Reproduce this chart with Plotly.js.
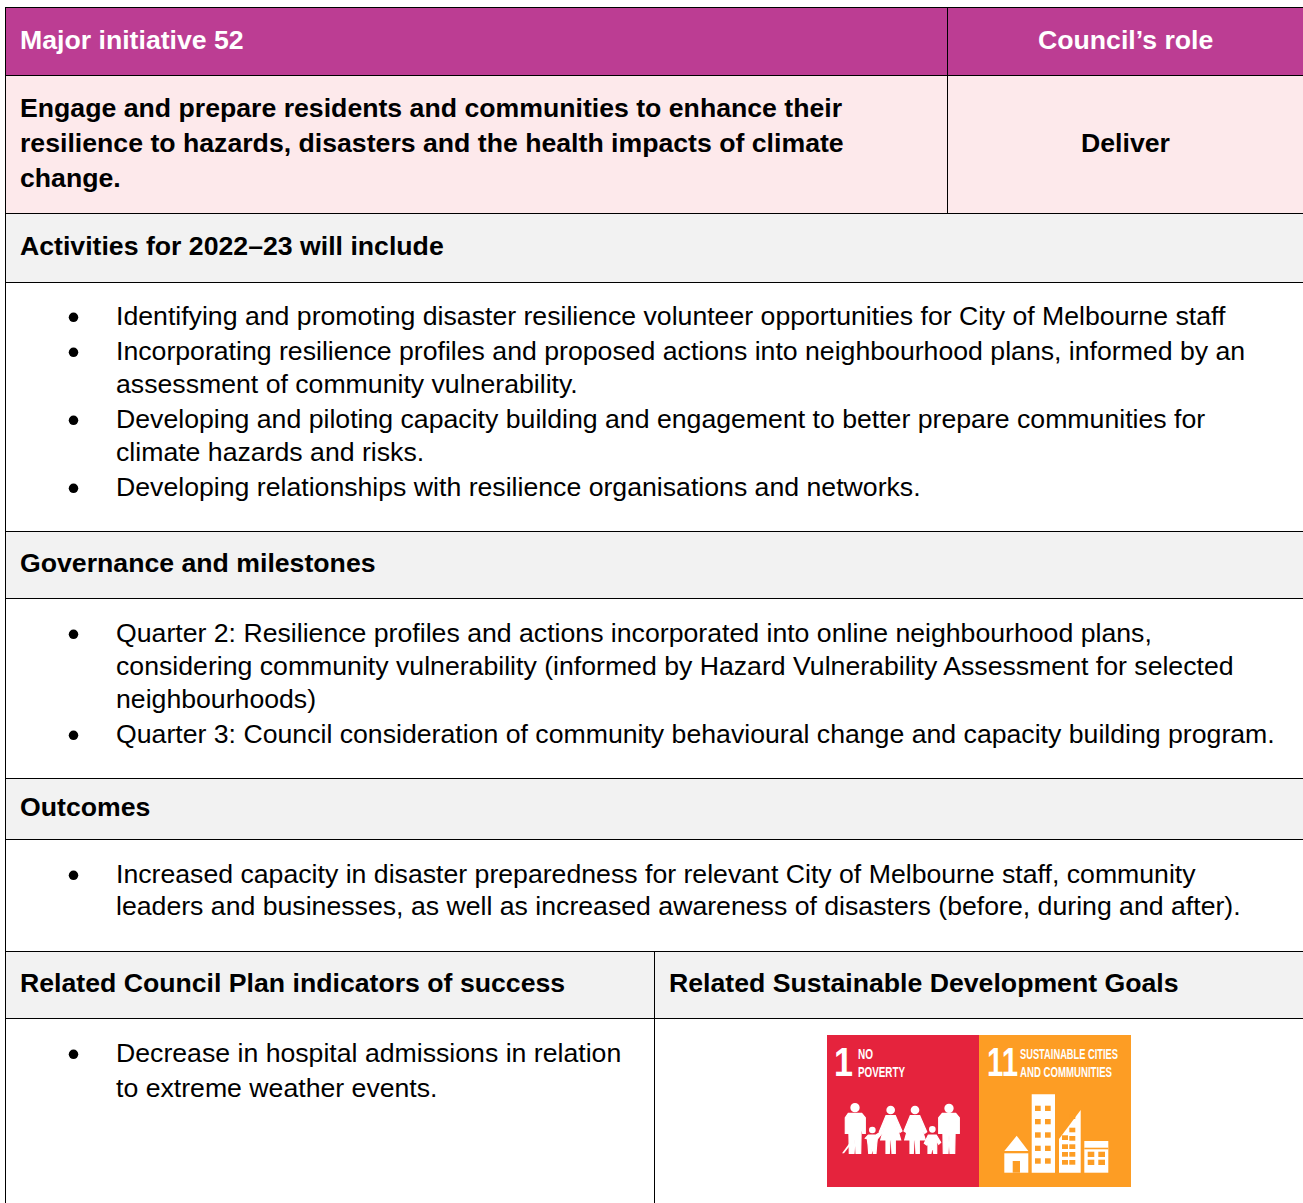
<!DOCTYPE html>
<html><head><meta charset="utf-8">
<script src="https://cdn.plot.ly/plotly-3.0.1.min.js"></script>
<style>html,body{margin:0;padding:0;background:#fff}#c{width:1303px;height:1203px}</style>
</head><body><div id="c"></div>
<script>
var headerLabels = ["Major initiative 52", "Council’s role"];
var initiativeLines = ["Engage and prepare residents and communities to enhance their",
  "resilience to hazards, disasters and the health impacts of climate", "change."];
var councilRole = "Deliver";
var sectionHeadings = ["Activities for 2022–23 will include", "Governance and milestones", "Outcomes",
  "Related Council Plan indicators of success"];
var sdgHeading = "Related Sustainable Development Goals";
var activityLines = ["Identifying and promoting disaster resilience volunteer opportunities for City of Melbourne staff",
  "Incorporating resilience profiles and proposed actions into neighbourhood plans, informed by an",
  "assessment of community vulnerability.",
  "Developing and piloting capacity building and engagement to better prepare communities for",
  "climate hazards and risks.",
  "Developing relationships with resilience organisations and networks."];
var milestoneLines = ["Quarter 2: Resilience profiles and actions incorporated into online neighbourhood plans,",
  "considering community vulnerability (informed by Hazard Vulnerability Assessment for selected",
  "neighbourhoods)",
  "Quarter 3: Council consideration of community behavioural change and capacity building program."];
var outcomeLines = ["Increased capacity in disaster preparedness for relevant City of Melbourne staff, community",
  "leaders and businesses, as well as increased awareness of disasters (before, during and after)."];
var indicatorLines = ["Decrease in hospital admissions in relation", "to extreme weather events."];
var sdgTexts = ["1", "NO", "POVERTY", "11", "SUSTAINABLE CITIES", "AND COMMUNITIES"];

var MAG="#BC3D93", PINK="#FDE9EB", GRAY="#F2F2F2", RED="#E5233D", ORG="#FD9D24", INK="#000";
var SIZE=26.67, F="Liberation Sans, Arial, sans-serif";
var shapes=[], ann=[], squeeze={};
function rect(x0,y0,x1,y1,c){shapes.push({type:"rect",xref:"x",yref:"y",x0:x0,y0:y0,x1:x1,y1:y1,fillcolor:c,line:{width:0},layer:"below"});}
function line(x0,y0,x1,y1){shapes.push({type:"line",xref:"x",yref:"y",x0:x0,y0:y0,x1:x1,y1:y1,line:{color:"#000",width:1},layer:"below"});}
function txt(s,x,y,o){o=o||{};ann.push({text:s,x:x,y:y,xref:"x",yref:"y",showarrow:false,xanchor:o.a||"left",align:o.a||"left",yanchor:"middle",borderpad:0,
  font:{family:F,size:o.s||SIZE,color:o.c||INK,weight:o.b?700:400}});
  if(o.w)squeeze[s]=o.w;}

rect(5,7,1303,75,MAG); rect(5,75,1303,213,PINK); rect(5,213,1303,282,GRAY);
rect(5,531,1303,598,GRAY); rect(5,778,1303,839,GRAY); rect(5,951,1303,1018,GRAY);
[7.5,75.5,213.5,282.5,531.5,598.5,778.5,839.5,951.5,1018.5].forEach(function(y){line(5,y,1303,y);});
line(5.5,7,5.5,1203); line(947.5,7,947.5,213); line(654.5,951,654.5,1203);

var BX=19, TX=115;
txt(headerLabels[0],BX,40,{b:1,c:"#fff"}); txt(headerLabels[1],1125,40,{b:1,c:"#fff",a:"center"});
[108,143,178].forEach(function(y,i){txt(initiativeLines[i],BX,y,{b:1});});
txt(councilRole,1125,143,{b:1,a:"center"});
[246,563,807,983].forEach(function(y,i){txt(sectionHeadings[i],BX,y,{b:1});});
txt(sdgHeading,668,983,{b:1});
[316,351,384,419,452,487].forEach(function(y,i){txt(activityLines[i],TX,y);});
[633,666,699,734].forEach(function(y,i){txt(milestoneLines[i],TX,y);});
[874,906].forEach(function(y,i){txt(outcomeLines[i],TX,y);});
[1053,1088].forEach(function(y,i){txt(indicatorLines[i],TX,y);});

// SDG tiles, icon outlines given in the tile's own 3x crop coordinates
rect(827,1035,979,1187,RED); rect(979,1035,1131,1187,ORG);
function P(pts,c,lw){var d=pts.map(function(p,i){return (i?"L":"M")+(820+p[0]/3).toFixed(1)+","+(1025+p[1]/3).toFixed(1);}).join("")+"Z";
  shapes.push({type:"path",xref:"x",yref:"y",path:d,fillcolor:c||"#fff",line:lw?{color:c||"#fff",width:lw}:{width:0},layer:"below"});}
function H(pts){P(pts,"#fff",1.2);}
function R(a,b,c,d,col){P([[a,b],[c,b],[c,d],[a,d]],col);}
function C(cx,cy,r){shapes.push({type:"circle",xref:"x",yref:"y",x0:820+(cx-r)/3,x1:820+(cx+r)/3,y0:1025+(cy-r)/3,y1:1025+(cy+r)/3,fillcolor:"#fff",line:{width:0},layer:"below"});}
C(105,248,14);
H([[85,265],[125,265],[136,278],[136,325],[128,325],[124,290],[122,385],[108,385],[106,330],[102,385],[88,385],[86,290],[84,325],[76,325],[76,278]]);
P([[72,385],[66,385],[128,300],[134,305]]);
C(157,315,10);
H([[145,330],[168,330],[180,322],[184,328],[172,342],[170,358],[168,385],[160,385],[157,365],[154,385],[146,385],[144,358],[142,342],[136,340]]);
C(212,255,13);
H([[198,272],[226,272],[246,318],[240,322],[228,295],[242,345],[226,345],[226,385],[216,385],[214,345],[210,345],[208,385],[198,385],[198,345],[182,345],[196,295],[184,325],[178,320]]);
C(285,255,13);
H([[271,272],[299,272],[320,320],[314,325],[300,295],[316,345],[298,345],[298,385],[288,385],[286,345],[282,345],[280,385],[270,385],[270,345],[254,345],[268,295],[258,322],[252,318]]);
C(337,313,10);
H([[325,330],[349,330],[362,352],[356,358],[350,345],[350,385],[341,385],[337,362],[333,385],[324,385],[324,345],[320,360],[313,355]]);
C(387,250,14);
H([[367,265],[407,265],[418,278],[418,325],[408,325],[406,290],[404,385],[390,385],[387,330],[384,385],[370,385],[368,290],[366,325],[356,325],[356,278]]);
// buildings
R(635,208,705,443);
[250,290,330,370,408].forEach(function(y){R(645,y-8,662,y+8,ORG);R(675,y-8,692,y+8,ORG);});
P([[717,443],[717,342],[782,255],[782,443]]);
[[757,275],[735,338],[757,315],[735,365],[757,340],[735,388],[757,365],[735,412],[757,388],[757,412]].forEach(function(w){R(w[0]-9,w[1]-7,w[0]+9,w[1]+7,ORG);});
P([[553,378],[590,332],[625,378]]); R(553,385,625,443); R(578,408,600,443,ORG);
R(793,348,865,443); R(793,368,865,373,ORG);
[[803,388],[835,388],[803,412],[835,412]].forEach(function(w){R(w[0],w[1]-8,w[0]+20,w[1]+8,ORG);});
txt(sdgTexts[0],833,1062,{s:40,b:1,c:"#fff",w:19});
txt(sdgTexts[1],857,1054,{s:14,b:1,c:"#fff",w:15});
txt(sdgTexts[2],857,1072,{s:14,b:1,c:"#fff",w:47});
txt(sdgTexts[3],985.5,1062,{s:40,b:1,c:"#fff",w:31});
txt(sdgTexts[4],1019,1054,{s:14,b:1,c:"#fff",w:98});
txt(sdgTexts[5],1019,1072,{s:14,b:1,c:"#fff",w:92});

var bulletY=[317.3,352.3,420.3,488.3,634.3,735.3,875.3,1054.3];
var trace={type:"scatter",mode:"markers",x:bulletY.map(function(){return 73.5;}),y:bulletY,marker:{color:"#000",size:9.5},hoverinfo:"skip",cliponaxis:false};
Plotly.newPlot("c",[trace],{width:1303,height:1203,margin:{l:0,r:0,t:0,b:0},paper_bgcolor:"#fff",plot_bgcolor:"#fff",showlegend:false,
  xaxis:{range:[0,1303],visible:false,fixedrange:true},yaxis:{range:[1203,0],visible:false,fixedrange:true},shapes:shapes,annotations:ann},{staticPlot:true,displayModeBar:false})
.then(function(){
  document.querySelectorAll(".annotation-text").forEach(function(t){
    var w=squeeze[t.textContent];
    if(w){t.setAttribute("textLength",w);t.setAttribute("lengthAdjust","spacingAndGlyphs");}
  });
});
</script></body></html>
